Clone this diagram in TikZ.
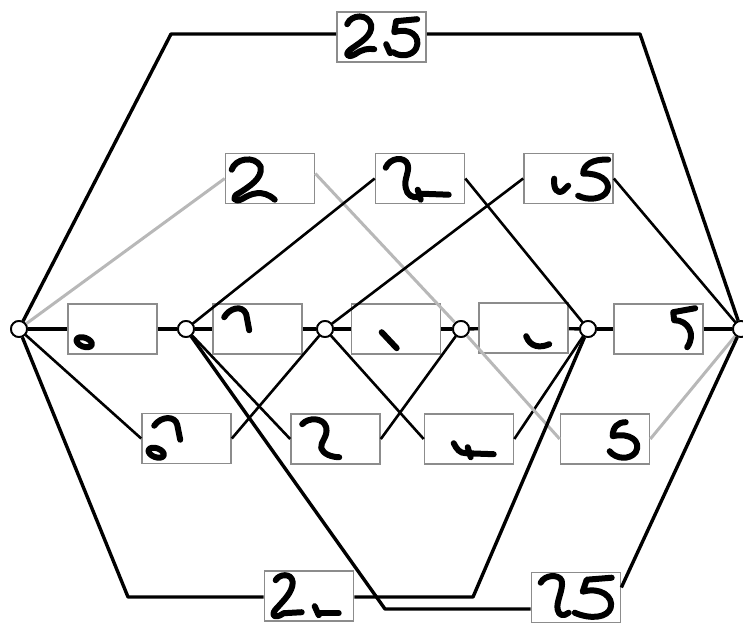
\documentclass[tikz,border=0pt]{standalone}
\begin{document}
\begin{tikzpicture}[x=1pt,y=-1pt,
  seg/.style={draw=black!45,line width=1.6pt,fill=white,minimum width=89pt,minimum height=50pt,inner sep=0pt},
  cut/.style={circle,draw=black,fill=white,line width=1.8pt,minimum size=16pt,inner sep=0pt},
  link/.style={draw=black,line width=2.6pt},
  mainlink/.style={draw=black,line width=3.4pt},
  path2/.style={draw=black!28,line width=3pt},
  digit/.style={draw=black,line width=6pt,line cap=round,line join=round}]
\useasboundingbox (0,0) rectangle (743,625);
% cut points
\node[cut] (n0) at (19,329) {};
\node[cut] (n1) at (186,329) {};
\node[cut] (n2) at (325,329) {};
\node[cut] (n3) at (461,329) {};
\node[cut] (n4) at (588,329) {};
\node[cut] (n5) at (741,329) {};
% segment boxes
\node[seg] (M0) at (112.5,329) {};
\node[seg] (M1) at (257.5,329) {};
\node[seg] (M2) at (396,329) {};
\node[seg] (M3) at (523.5,328) {};
\node[seg] (M4) at (658.5,329) {};
\node[seg] (L0) at (186.5,438.5) {};
\node[seg] (L1) at (335.5,439) {};
\node[seg] (L2) at (469,439) {};
\node[seg] (L3) at (605,439) {};
\node[seg] (U0) at (270,178.5) {};
\node[seg] (U1) at (420,178.5) {};
\node[seg] (U2) at (568.5,178.5) {};
\node[seg] (T25) at (381.5,37) {};
\node[seg] (B0) at (309,596) {};
\node[seg] (B1) at (576,597.5) {};
% bend points
\coordinate (tl) at (171,34);
\coordinate (tr) at (640,34);
\coordinate (bl) at (128,597);
\coordinate (bm) at (473,597);
\coordinate (bc) at (385,609);
% middle row
\draw[mainlink] (n0) -- (M0); \draw[mainlink] (M0) -- (n1);
\draw[mainlink] (n1) -- (M1); \draw[mainlink] (M1) -- (n2);
\draw[mainlink] (n2) -- (M2); \draw[mainlink] (M2) -- (n3);
\draw[mainlink] (n3) -- (M3); \draw[mainlink] (M3) -- (n4);
\draw[mainlink] (n4) -- (M4); \draw[mainlink] (M4) -- (n5);
% lower row
\draw[link] (n0) -- (L0.west); \draw[link] (L0.east) -- (n2);
\draw[link] (n1) -- (L1.west); \draw[link] (L1.east) -- (n3);
\draw[link] (n2) -- (L2.west); \draw[link] (L2.east) -- (n4);
\draw[path2] (n3) -- (L3.west); \draw[path2] (L3.east) -- (n5);
% upper row
\draw[path2] (n0) -- (U0.west); \draw[path2] ([yshift=5pt]U0.east) -- (n3);
\draw[link] (n1) -- (U1.west); \draw[link] (U1.east) -- (n4);
\draw[link] (n2) -- (U2.west); \draw[link] (U2.east) -- (n5);
% top
\draw[mainlink,line join=round] (n0) -- (tl) -- (tl -| T25.west);
\draw[mainlink,line join=round] (tr -| T25.east) -- (tr) -- (n5);
% bottom
\draw[mainlink,line join=round] (n0) -- (bl) -- (bl -| B0.west);
\draw[mainlink,line join=round] (bm -| B0.east) -- (bm) -- (n4);
\draw[mainlink,line join=round] (n1) -- (bc) -- (bc -| B1.west);
\draw[mainlink] ([yshift=10pt]B1.east) -- (n5);
% redraw cut points on top
\foreach \c in {n0,n1,n2,n3,n4,n5}{\node[cut] at (\c) {};}
% ---- handwriting fragments ----
% M0: o
\draw[digit,line width=6pt,shift={(M0.north west)}] (17,39) ellipse [x radius=8,y radius=4.5,rotate=-20];
% M1: hook
\draw[digit,shift={(M1.north west)}] (12,14) .. controls (17,5) and (30,1) .. (34,11) -- (37,27);
% M2: tick
\draw[digit,shift={(M2.north west)}] (31,29) -- (46,45);
% M3: smile
\draw[digit,shift={(M3.north west)}] (48,34) .. controls (52,45) and (62,46) .. (71,42);
% M4: top of 5
\draw[digit,shift={(M4.north west)}] (82,5) -- (60,9) -- (61,17) .. controls (75,17) and (83,31) .. (74,44);
% L0: o and hook
\draw[digit,line width=6pt,shift={(L0.north west)}] (15,40) ellipse [x radius=8,y radius=4.5,rotate=-20];
\draw[digit,shift={(L0.north west)}] (13,13) .. controls (20,3) and (34,3) .. (36,12) -- (39,27);
% L1: 2 without base
\draw[digit,shift={(L1.north west)}] (12,11) .. controls (18,4) and (33,4) .. (36,14) .. controls (38,24) and (30,28) .. (31,35) .. controls (33,41) and (42,44) .. (49,44);
% L2: joint
\draw[digit,shift={(L2.north west)}] (30,30) .. controls (33,36) and (36,40) .. (42,40) -- (70,41);
\draw[digit,shift={(L2.north west)}] (44,34) -- (47,44);
% L3: 5 without bar
\draw[digit,shift={(L3.north west)}] (66,9) .. controls (58,9) and (53,14) .. (53,23) .. controls (70,19) and (82,28) .. (76,39) .. controls (70,47) and (56,46) .. (50,38);
% U0: 2
\draw[digit,shift={(U0.north west)}] (7,17) .. controls (10,6) and (30,2) .. (36,14) .. controls (38,26) and (24,34) .. (15,40) .. controls (6,44) and (9,51) .. (18,46) .. controls (26,41) and (38,36) .. (50,47);
% U1: 2 with tail
\draw[digit,shift={(U1.north west)}] (11,15) .. controls (15,5) and (30,3) .. (33,12) .. controls (35,20) and (29,26) .. (31,35) .. controls (32,42) and (38,46) .. (44,44);
\draw[digit,shift={(U1.north west)}] (43,37) -- (46,47);
\draw[digit,shift={(U1.north west)}] (46,41) -- (74,42);
% U2: hook and S
\draw[digit,shift={(U2.north west)}] (31,26) .. controls (30,36) and (34,42) .. (40,38) -- (45,33);
\draw[digit,shift={(U2.north west)}] (85,7) .. controls (70,6) and (60,12) .. (60,21) .. controls (76,20) and (88,28) .. (84,38) .. controls (80,47) and (64,48) .. (55,43);
% T25
\draw[digit,shift={(T25.north west)}] (11,13) .. controls (15,3) and (32,2) .. (35,14) .. controls (36,24) and (26,30) .. (16,37) .. controls (8,42) and (10,48) .. (19,43) .. controls (26,38) and (32,37) .. (38,38);
\draw[digit,shift={(T25.north west)}] (81,8) -- (60,10) -- (58,21) .. controls (74,16) and (85,25) .. (80,37) .. controls (76,45) and (64,46) .. (57,41);
\draw[digit,shift={(T25.north west)}] (50,33) -- (54,42);
% B0: 2 and joint
\draw[digit,shift={(B0.north west)}] (12,10) .. controls (15,4) and (28,2) .. (29,12) .. controls (29,22) and (20,30) .. (14,37) .. controls (6,44) and (10,50) .. (20,43) -- (38,42);
\draw[digit,shift={(B0.north west)}] (51,36) -- (55,45);
\draw[digit,shift={(B0.north west)}] (56,43) -- (75,43);
% B1: 25
\draw[digit,shift={(B1.north west)}] (10,11) .. controls (14,3) and (28,2) .. (31,9) .. controls (33,18) and (25,30) .. (27,38) .. controls (28,44) and (33,45) .. (38,41);
\draw[digit,shift={(B1.north west)}] (81,6) -- (56,8) -- (52,20) .. controls (70,15) and (83,25) .. (80,36) .. controls (77,46) and (60,48) .. (44,41);
\end{tikzpicture}
\end{document}
